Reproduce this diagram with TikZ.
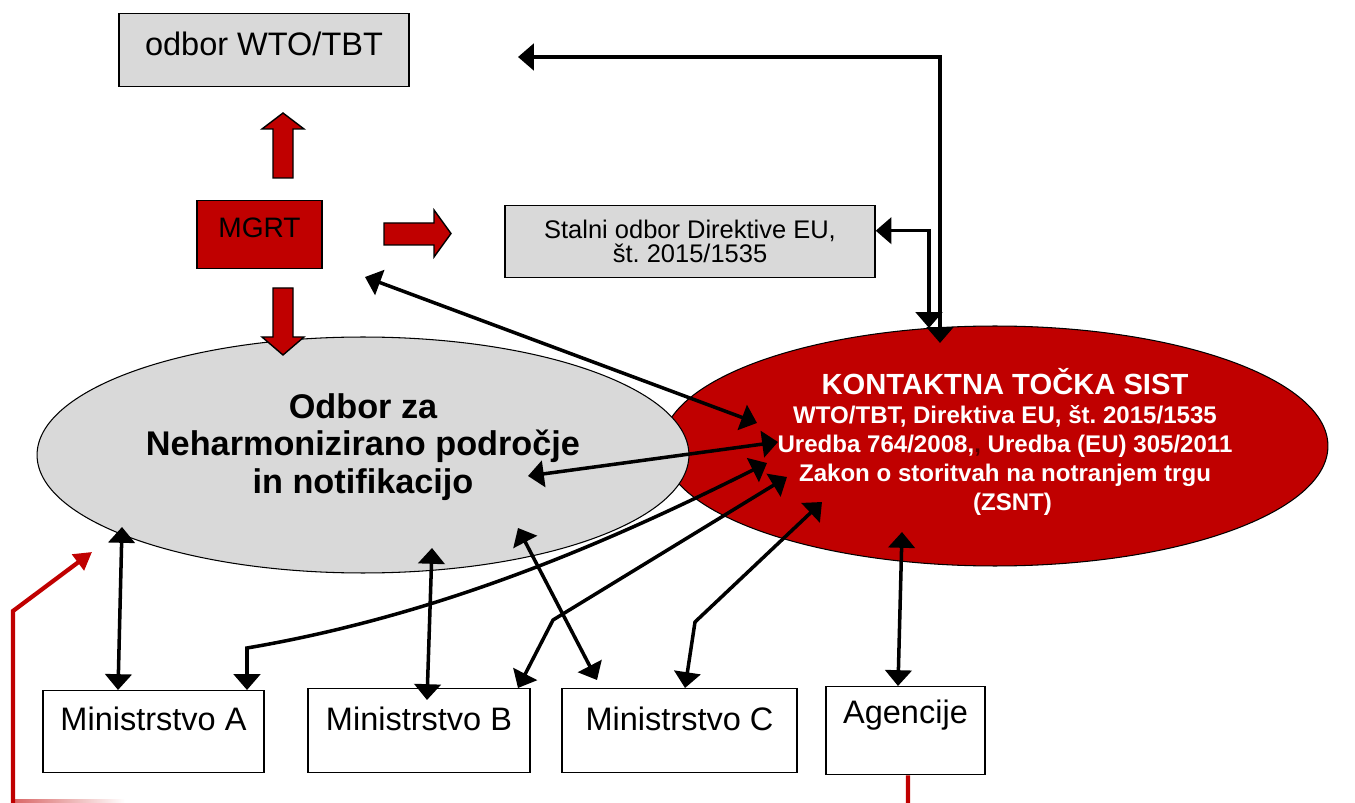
\documentclass[tikz,border=0pt]{standalone}
\usepackage{fontspec}
\setmainfont{Liberation Sans}
\usetikzlibrary{arrows.meta,shapes.geometric}

\definecolor{sistred}{RGB}{192,0,0}
\definecolor{boxgrey}{RGB}{217,217,217}

\tikzset{
  box/.style={draw,line width=0.8pt,inner sep=0pt,anchor=north},
  fatarrow/.style={draw,line width=0.8pt,fill=sistred,line join=miter},
  link/.style={line width=2pt,>={Triangle[length=9pt,width=15pt]},<->},
  redlink/.style={sistred,line width=2.4pt},
}

\begin{document}
\frenchspacing
\begin{tikzpicture}
    [
      x=0.02cm, y=-0.02cm,
    ]
    \useasboundingbox (0,0) rectangle (1355,803);

    % boxes
    \node [box,fill=boxgrey,minimum width=5.8cm,text height=0.84cm,text depth=0.62cm,
           font=\fontsize{18.5}{22}\selectfont] (wto) at (264,13) {odbor WTO/TBT};
    \node [box,fill=sistred,minimum width=2.5cm,text height=0.74cm,text depth=0.62cm,
           font=\fontsize{16}{19}\selectfont] (mgrt) at (259.5,200) {MGRT};
    \node [box,fill=boxgrey,minimum width=7.4cm,minimum height=1.44cm,align=center,
           font=\fontsize{14.5}{13.6}\selectfont] (stalni) at (690,205) {Stalni odbor Direktive EU,\\ št. 2015/1535};

    \node [box,minimum width=4.42cm,text height=0.8cm,text depth=0.84cm,
           font=\fontsize{18.5}{22}\selectfont] (minA) at (153.5,690) {Ministrstvo A};
    \node [box,minimum width=4.44cm,text height=0.84cm,text depth=0.84cm,
           font=\fontsize{18.5}{22}\selectfont] (minB) at (419,688) {Ministrstvo B};
    \node [box,minimum width=4.7cm,text height=0.84cm,text depth=0.84cm,
           font=\fontsize{18.5}{22}\selectfont] (minC) at (679.5,688) {Ministrstvo C};
    \node [box,minimum width=3.18cm,text height=0.74cm,text depth=1.02cm,
           font=\fontsize{18.5}{22}\selectfont] (agen) at (905.5,686) {Agencije};

    % the two ellipses
    \node [ellipse,draw,line width=0.6pt,fill=sistred,minimum width=13.32cm,minimum height=4.8cm] (kontakt) at (995,446) {};
    \node [ellipse,draw,line width=0.6pt,fill=boxgrey,minimum width=13.04cm,minimum height=4.72cm] (odbor) at (363,455) {};

    \node [align=center,inner sep=0pt,font=\bfseries\fontsize{19.5}{21.5}\selectfont] (odbortxt) at (363,447)
      {Odbor za\\ Neharmonizirano področje\\ in notifikacijo};
    \node [align=center,inner sep=0pt,text=white,font=\bfseries\fontsize{13.7}{16.4}\selectfont] (kontakttxt) at (1005,442)
      {{\fontsize{16.6}{16.4}\selectfont KONTAKTNA TOČKA SIST}\\
       WTO/TBT, Direktiva EU, št. 2015/1535\\
       Uredba 764/2008,{\color{sistred!45!black},} Uredba (EU) 305/2011\\
       Zakon o storitvah na notranjem trgu\\
       \hspace*{0.3cm}(ZSNT)};

    % MGRT fat arrows
    \draw [fatarrow] (273,178) -- (273,129) -- (262,129) -- (283,113) -- (304,129) -- (293,129) -- (293,178) -- cycle;
    \draw [fatarrow] (384,223) -- (434,223) -- (434,210) -- (451,233.5) -- (434,257) -- (434,245) -- (384,245) -- cycle;
    \draw [fatarrow] (273,288) -- (293,288) -- (293,337) -- (304,337) -- (283,355) -- (262,337) -- (273,337) -- cycle;

    % arrow ends
    \coordinate (wtoend) at (518,57);
    \coordinate (mgrtend) at (365,277);
    \coordinate (k1) at (940,343);
    \coordinate (k2) at (929,328);
    \coordinate (k3) at (757,423);
    \coordinate (k4) at (778,442);
    \coordinate (k5) at (767,463);
    \coordinate (k6) at (787,477);
    \coordinate (k7) at (822,502);
    \coordinate (k8) at (902,532);
    \coordinate (o1) at (528,476);
    \coordinate (o2) at (122,527);
    \coordinate (o3) at (432,548);
    \coordinate (o4) at (518,528);
    \coordinate (bendA) at (247,648);
    \coordinate (bendB) at (553,620);
    \coordinate (bendC) at (695,622);

    % black links
    \draw [link] (wtoend) -| (k1);
    \draw [link] ([yshift=0.22cm]stalni.east) -| (k2);
    \draw [link] (mgrtend) -- (k3);
    \draw [link] (o1) -- (k4);
    \draw [link] (bendA |- minA.north) -- (bendA) .. controls (447,614) and (617,538) .. (k5);
    \draw [link] ([xshift=1.98cm]minB.north) -- (bendB) -- (k6);
    \draw [link] ([xshift=0.11cm]minC.north) -- (bendC) -- (k7);
    \draw [link] (k8) -- ([xshift=-0.15cm]agen.north);
    \draw [link] (o2) -- ([xshift=-0.71cm]minA.north);
    \draw [link] (o3) -- ([xshift=0.16cm,yshift=-0.24cm]minB.north);
    \draw [link] (o4) -- ([xshift=-1.65cm,yshift=0.16cm]minC.north);

    % red lines
    \coordinate (redfoot) at (13,803);
    \coordinate (redknee) at (13,611);
    \coordinate (redtip) at (92,552);
    \coordinate (agenfoot) at (908,803);
    \shade [left color=sistred!60,right color=white] (13,799) rectangle (125,803);
    \draw [redlink,-{Triangle[length=10pt,width=11pt]}] (redfoot) -- (redknee) -- (redtip);
    \draw [redlink] ([xshift=0.05cm]agen.south) -- (agenfoot);
  \end{tikzpicture}
\end{document}
